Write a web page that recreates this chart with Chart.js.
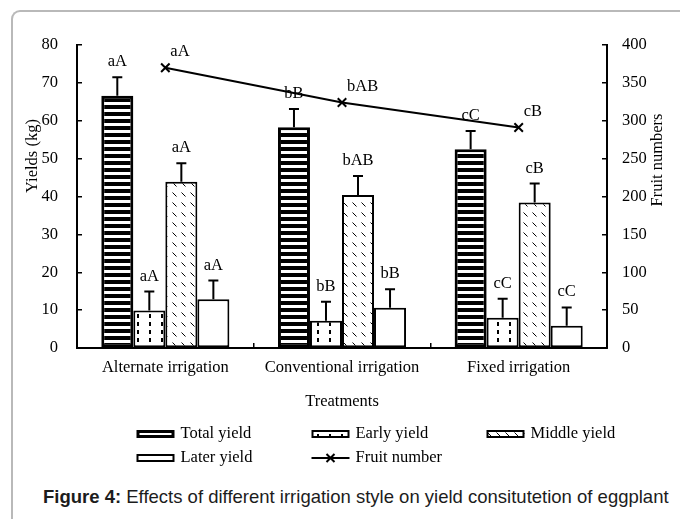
<!DOCTYPE html>
<html>
<head>
<meta charset="utf-8">
<script src="https://cdn.jsdelivr.net/npm/chart.js@4"></script>
<style>
html, body { margin: 0; padding: 0; background: #fff; width: 680px; height: 519px; overflow: hidden; position: relative; }
#frame { position: absolute; left: 11px; top: 10px; width: 720px; height: 540px; border-left: 2px solid #b9b9b9; border-top: 2px solid #b9b9b9; border-top-left-radius: 9px; }
#chart { position: absolute; left: 0; top: 0; }
#caption { position: absolute; left: 43px; top: 486px; font: 18.5px 'Liberation Sans', Arial, sans-serif; color: #1c1c1c; white-space: nowrap; }
</style>
</head>
<body>
<div id="frame"></div>
<canvas id="chart" width="680" height="480"></canvas>
<div id="caption"><b>Figure 4:</b> Effects of different irrigation style on yield consitutetion of eggplant</div>
<script>
// Дані
const categories = ['Alternate irrigation', 'Conventional irrigation', 'Fixed irrigation'];

const totalYield = [66.6, 58.3, 52.5];
const totalErr = [4.9, 4.8, 4.8];
const totalMarks = ['aA', 'bB', 'cC'];

const earlyYield = [9.9, 7.2, 8.0];
const earlyErr = [5.0, 5.0, 5.0];
const earlyMarks = ['aA', 'bB', 'cC'];

const middleYield = [43.9, 40.4, 38.4];
const middleErr = [4.9, 5.0, 5.0];
const middleMarks = ['aA', 'bAB', 'cB'];

const laterYield = [12.9, 10.6, 5.9];
const laterErr = [4.9, 4.9, 4.8];
const laterMarks = ['aA', 'bB', 'cC'];

const fruitNumbers = [370, 324, 291];
const fruitMarks = ['aA', 'bAB', 'cB'];

const SERIF = "'Liberation Serif', 'Times New Roman', serif";
const FS = 16.5;
const canvas = document.getElementById('chart');
const ctx = canvas.getContext('2d');

// Штрихування стовпців
function makePattern(w, h, draw) {
    const c = document.createElement('canvas');
    c.width = w; c.height = h;
    const g = c.getContext('2d');
    g.fillStyle = '#fff';
    g.fillRect(0, 0, w, h);
    g.fillStyle = '#000';
    g.strokeStyle = '#000';
    draw(g);
    return ctx.createPattern(c, 'repeat');
}
const stripes = makePattern(8, 7, g => g.fillRect(0, 0, 8, 4));
const dashes = makePattern(12, 8, g => g.fillRect(5, 2, 2, 4));
const slashes = makePattern(9, 10, g => {
    g.lineWidth = 1;
    g.beginPath();
    g.moveTo(1.5, 2.5);
    g.lineTo(5.5, 6.5);
    g.stroke();
});

// Похибки, літери значущості, підписи осей і легенда
const extras = {
    id: 'extras',
    afterDatasetsDraw(chart) {
        const c = chart.ctx;
        const y = chart.scales.y;
        c.save();
        c.strokeStyle = '#000';
        c.fillStyle = '#000';
        c.lineWidth = 2;
        c.font = FS + 'px ' + SERIF;
        c.textBaseline = 'alphabetic';
        chart.data.datasets.forEach((ds, i) => {
            const meta = chart.getDatasetMeta(i);
            if (ds.type === 'line') {
                c.textAlign = 'left';
                meta.data.forEach((pt, j) => c.fillText(ds.marks[j], pt.x + 5, pt.y - 12));
                return;
            }
            c.textAlign = 'center';
            meta.data.forEach((bar, j) => {
                const top = y.getPixelForValue(ds.data[j] + ds.err[j]);
                c.beginPath();
                c.moveTo(bar.x, bar.y);
                c.lineTo(bar.x, top);
                c.moveTo(bar.x - 5, top);
                c.lineTo(bar.x + 5, top);
                c.stroke();
                c.fillText(ds.marks[j], bar.x, top - 11);
            });
        });
        c.restore();
    },
    afterDraw(chart) {
        const c = chart.ctx;
        const ca = chart.chartArea;
        c.save();
        c.fillStyle = '#000';
        c.font = FS + 'px ' + SERIF;
        c.textAlign = 'center';
        c.textBaseline = 'middle';
        c.fillText('Treatments', (ca.left + ca.right) / 2, 402);

        c.save();
        c.translate(33, 156);
        c.rotate(-Math.PI / 2);
        c.fillText('Yields (kg)', 0, 0);
        c.restore();
        c.save();
        c.translate(658, 160);
        c.rotate(-Math.PI / 2);
        c.fillText('Fruit numbers', 0, 0);
        c.restore();

        // легенда: 3 колонки, 2 рядки
        c.textAlign = 'left';
        chart.data.datasets.forEach((ds, i) => {
            const col = i % 3, row = Math.floor(i / 3);
            const x = ca.left + 59.5 + col * 175;
            const yy = 430 + row * 24;
            if (ds.type === 'line') {
                c.strokeStyle = '#000';
                c.lineWidth = 2;
                c.beginPath();
                c.moveTo(x, yy + 4);
                c.lineTo(x + 38, yy + 4);
                c.moveTo(x + 15, yy);
                c.lineTo(x + 23, yy + 8);
                c.moveTo(x + 23, yy);
                c.lineTo(x + 15, yy + 8);
                c.stroke();
            } else {
                const bw = ds.borderWidth;
                c.fillStyle = bw > 2 ? '#fff' : ds.backgroundColor;
                c.fillRect(x, yy, 38, 8);
                c.strokeStyle = '#000';
                c.lineWidth = bw;
                c.strokeRect(x + bw / 2, yy + bw / 2, 38 - bw, 8 - bw);
            }
            c.fillStyle = '#000';
            c.fillText(ds.label, x + 44, yy + 4);
        });
        c.restore();
    }
};

const tickGrid = { display: true, drawOnChartArea: false, drawTicks: true, tickLength: -5, color: '#000', lineWidth: 1.5 };

new Chart(ctx, {
    type: 'bar',
    data: {
        labels: categories,
        datasets: [
            { label: 'Total yield', data: totalYield, err: totalErr, marks: totalMarks, backgroundColor: stripes, borderColor: '#000', borderWidth: 3, order: 1 },
            { label: 'Early yield', data: earlyYield, err: earlyErr, marks: earlyMarks, backgroundColor: dashes, borderColor: '#000', borderWidth: 2, order: 1 },
            { label: 'Middle yield', data: middleYield, err: middleErr, marks: middleMarks, backgroundColor: slashes, borderColor: '#000', borderWidth: 2, order: 1 },
            { label: 'Later yield', data: laterYield, err: laterErr, marks: laterMarks, backgroundColor: '#fff', borderColor: '#000', borderWidth: 2, order: 1 },
            { type: 'line', label: 'Fruit number', data: fruitNumbers, marks: fruitMarks, yAxisID: 'y1',
              borderColor: '#000', borderWidth: 2, pointStyle: 'crossRot', pointRadius: 6,
              pointBorderColor: '#000', pointBorderWidth: 2, fill: false, tension: 0, order: 0 }
        ]
    },
    options: {
        responsive: false,
        animation: false,
        devicePixelRatio: 1,
        layout: { padding: { top: 45, left: 0, right: 0, bottom: 0 } },
        datasets: { bar: { categoryPercentage: 0.725, barPercentage: 1.0, borderSkipped: false } },
        font: { family: SERIF, size: FS },
        plugins: { legend: { display: false }, tooltip: { enabled: false } },
        scales: {
            x: {
                offset: true,
                grid: Object.assign({ offset: true }, tickGrid),
                border: { color: '#000', width: 2 },
                ticks: { color: '#000', padding: 15, font: { family: SERIF, size: FS } },
                afterFit(s) { s.height = 132; }
            },
            y: {
                position: 'left', min: 0, max: 80,
                grid: tickGrid,
                border: { color: '#000', width: 2 },
                ticks: { stepSize: 10, color: '#000', padding: 24, font: { family: SERIF, size: FS } },
                afterFit(s) { s.width = 77; }
            },
            y1: {
                position: 'right', min: 0, max: 400,
                grid: tickGrid,
                border: { color: '#000', width: 2 },
                ticks: { stepSize: 50, color: '#000', padding: 20, font: { family: SERIF, size: FS } },
                afterFit(s) { s.width = 73; }
            }
        }
    },
    plugins: [extras]
});
</script>
</body>
</html>
